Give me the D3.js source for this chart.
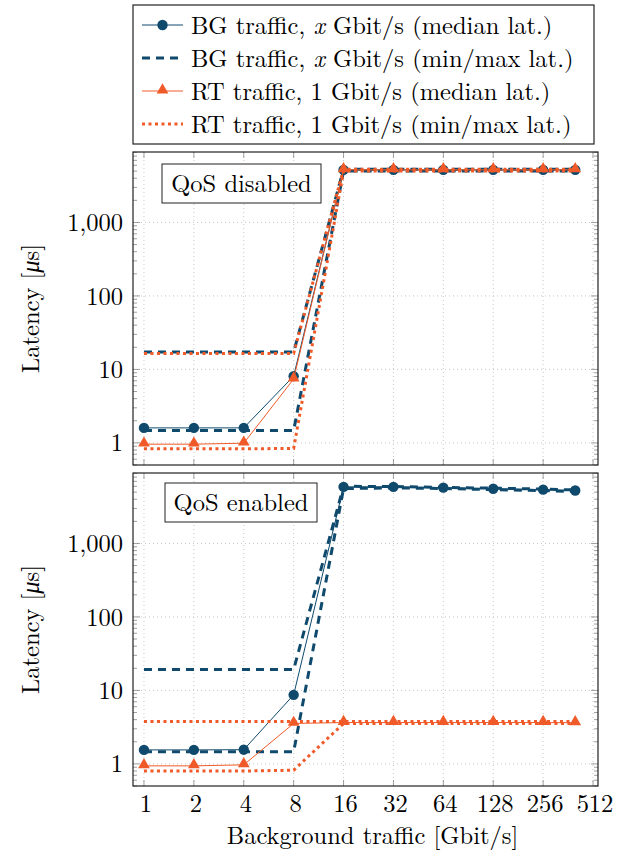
<!DOCTYPE html>
<html>
<head>
<meta charset="utf-8">
<script src="https://cdn.jsdelivr.net/npm/d3@7/dist/d3.min.js"></script>
<style>
  body { margin: 0; background: white; }
</style>
</head>
<body>
<svg id="chart" width="628" height="852" font-family="'Latin Modern Roman', 'Liberation Serif', serif"></svg>
<script>
// 数据
var xVals = [1, 2, 4, 8, 16, 32, 64, 128, 256, 400];
var xTicks = [1, 2, 4, 8, 16, 32, 64, 128, 256, 512];
var yTicks = [1, 10, 100, 1000];

// QoS disabled
var bgMedDis = [1.6, 1.6, 1.6, 8.1, 5200, 5200, 5200, 5200, 5200, 5200];
var bgMinDis = [1.47, 1.47, 1.47, 1.47, 5000, 5000, 5000, 5000, 5000, 5000];
var bgMaxDis = [17.2, 17.2, 17.2, 17.2, 5300, 5300, 5300, 5300, 5300, 5300];
var rtMedDis = [0.96, 0.96, 0.99, 7.4, 5200, 5200, 5200, 5200, 5200, 5200];
var rtMinDis = [0.83, 0.83, 0.83, 0.84, 5000, 5000, 5000, 5000, 5000, 5000];
var rtMaxDis = [16.5, 16.5, 16.5, 16.5, 5300, 5300, 5300, 5300, 5300, 5300];

// QoS enabled
var bgMedEn = [1.55, 1.55, 1.56, 8.7, 5900, 5900, 5750, 5560, 5400, 5250];
var bgMinEn = [1.46, 1.46, 1.46, 1.46, 5600, 5700, 5600, 5400, 5250, 5100];
var bgMaxEn = [19.2, 19.2, 19.2, 19.2, 6000, 5950, 5800, 5650, 5500, 5350];
var rtMedEn = [0.94, 0.94, 0.97, 3.55, 3.65, 3.65, 3.65, 3.65, 3.65, 3.62];
var rtMinEn = [0.80, 0.80, 0.80, 0.82, 3.55, 3.55, 3.55, 3.55, 3.55, 3.55];
var rtMaxEn = [3.78, 3.78, 3.78, 3.78, 3.78, 3.78, 3.78, 3.78, 3.78, 3.78];

var legendLabels = [
  "BG traffic, x Gbit/s (median lat.)",
  "BG traffic, x Gbit/s (min/max lat.)",
  "RT traffic, 1 Gbit/s (median lat.)",
  "RT traffic, 1 Gbit/s (min/max lat.)"
];

// 常量
var BLUE = "#0f4a6d";
var ORANGE = "#f05a28";
var LEFT = 133, RIGHT = 598;
var FONT = 24.5;

var svg = d3.select("#chart");

var x = d3.scaleLog().base(2)
  .domain([Math.pow(2, -0.22), Math.pow(2, 9.1)])
  .range([LEFT, RIGHT]);

var styles = {
  med: { width: 1, dash: null },
  dash: { width: 3, dash: "8,6" },
  dot: { width: 3, dash: "3,3.5" }
};

function drawPanel(top, bottom, series, label, box, showX) {
  var y = d3.scaleLog().domain([0.5, 9100]).range([bottom, top]);
  var g = svg.append("g");

  // 网格
  g.append("g").selectAll("line").data(xTicks).enter().append("line")
    .attr("x1", d => x(d)).attr("x2", d => x(d))
    .attr("y1", top).attr("y2", bottom)
    .attr("stroke", "#c8c8c8").attr("stroke-dasharray", "1,3");
  g.append("g").selectAll("line").data(yTicks).enter().append("line")
    .attr("x1", LEFT).attr("x2", RIGHT)
    .attr("y1", d => y(d)).attr("y2", d => y(d))
    .attr("stroke", "#c8c8c8").attr("stroke-dasharray", "1,3");

  // 刻度
  var minor = [];
  for (var e = -1; e <= 3; e++) {
    for (var m = 1; m <= 9; m++) {
      var v = m * Math.pow(10, e);
      if (v >= 0.5 && v <= 9100 && m != 1) minor.push(v);
    }
  }
  var tg = g.append("g").attr("stroke", "#888").attr("stroke-width", 0.8);
  [LEFT, RIGHT].forEach(function(edge) {
    var dir = edge == LEFT ? 1 : -1;
    tg.selectAll(null).data(minor).enter().append("line")
      .attr("x1", edge).attr("x2", edge + dir * 4)
      .attr("y1", d => y(d)).attr("y2", d => y(d));
    tg.selectAll(null).data(yTicks).enter().append("line")
      .attr("x1", edge).attr("x2", edge + dir * 7)
      .attr("y1", d => y(d)).attr("y2", d => y(d));
  });
  [top, bottom].forEach(function(edge) {
    var dir = edge == bottom ? -1 : 1;
    tg.selectAll(null).data(xTicks).enter().append("line")
      .attr("x1", d => x(d)).attr("x2", d => x(d))
      .attr("y1", edge).attr("y2", edge + dir * 6);
  });

  // 线条
  var line = d3.line().x((d, i) => x(xVals[i])).y(d => y(d));
  series.forEach(function(s) {
    var st = styles[s.style];
    g.append("path").datum(s.values)
      .attr("d", line)
      .attr("fill", "none")
      .attr("stroke", s.color)
      .attr("stroke-width", st.width)
      .attr("stroke-dasharray", st.dash);
    if (s.marker == "circle") {
      g.append("g").selectAll("circle").data(s.values).enter().append("circle")
        .attr("cx", (d, i) => x(xVals[i])).attr("cy", d => y(d))
        .attr("r", 5.2).attr("fill", s.color);
    } else if (s.marker == "triangle") {
      g.append("g").selectAll("path").data(s.values).enter().append("path")
        .attr("d", d3.symbol().type(d3.symbolTriangle).size(60))
        .attr("transform", (d, i) => "translate(" + x(xVals[i]) + "," + (y(d) - 1) + ")")
        .attr("fill", s.color);
    }
  });

  // 边框
  g.append("rect")
    .attr("x", LEFT).attr("y", top)
    .attr("width", RIGHT - LEFT).attr("height", bottom - top)
    .attr("fill", "none").attr("stroke", "#222").attr("stroke-width", 1.2);

  // y 轴标签
  g.append("g").selectAll("text").data(yTicks).enter().append("text")
    .attr("x", 123).attr("y", d => y(d))
    .attr("dy", "0.35em")
    .attr("text-anchor", "end")
    .attr("font-size", FONT)
    .text(d => d3.format(",")(d));

  var yl = g.append("text")
    .attr("transform", "translate(39," + ((top + bottom) / 2) + ") rotate(-90)")
    .attr("text-anchor", "middle")
    .attr("font-size", FONT);
  yl.append("tspan").text("Latency [");
  yl.append("tspan").attr("font-style", "italic").text("μ");
  yl.append("tspan").text("s]");

  // QoS 标注框
  g.append("rect")
    .attr("x", box[0]).attr("y", box[1])
    .attr("width", box[2]).attr("height", box[3])
    .attr("fill", "white").attr("stroke", "#222").attr("stroke-width", 1);
  g.append("text")
    .attr("x", box[0] + box[2] / 2).attr("y", box[1] + box[3] / 2)
    .attr("dy", "0.35em").attr("text-anchor", "middle")
    .attr("font-size", FONT)
    .text(label);

  if (showX) {
    g.append("g").selectAll("text").data(xTicks).enter().append("text")
      .attr("x", d => x(d) + 2).attr("y", bottom + 26)
      .attr("text-anchor", "middle")
      .attr("font-size", FONT)
      .text(d => d);
    g.append("text")
      .attr("x", (LEFT + RIGHT) / 2 + 7).attr("y", bottom + 58)
      .attr("text-anchor", "middle")
      .attr("font-size", FONT)
      .text("Background traffic [Gbit/s]");
  }
}

function seriesOf(bgMed, bgMin, bgMax, rtMed, rtMin, rtMax) {
  return [
    { values: bgMed, color: BLUE, style: "med", marker: "circle" },
    { values: bgMin, color: BLUE, style: "dash" },
    { values: bgMax, color: BLUE, style: "dash" },
    { values: rtMed, color: ORANGE, style: "med", marker: "triangle" },
    { values: rtMin, color: ORANGE, style: "dot" },
    { values: rtMax, color: ORANGE, style: "dot" }
  ];
}

drawPanel(152, 465, seriesOf(bgMedDis, bgMinDis, bgMaxDis, rtMedDis, rtMinDis, rtMaxDis),
  "QoS disabled", [162, 164, 159, 39], false);
drawPanel(473, 786, seriesOf(bgMedEn, bgMinEn, bgMaxEn, rtMedEn, rtMinEn, rtMaxEn),
  "QoS enabled", [165, 483, 152, 39], true);

// 图例
var lg = svg.append("g");
lg.append("rect")
  .attr("x", LEFT).attr("y", 5).attr("width", 461).attr("height", 139)
  .attr("fill", "white").attr("stroke", "#222").attr("stroke-width", 1.2);
var legendStyles = [
  { color: BLUE, style: "med", marker: "circle" },
  { color: BLUE, style: "dash" },
  { color: ORANGE, style: "med", marker: "triangle" },
  { color: ORANGE, style: "dot" }
];
legendLabels.forEach(function(lab, i) {
  var ly = 25 + i * 33;
  var s = legendStyles[i];
  var st = styles[s.style];
  lg.append("line")
    .attr("x1", 142).attr("x2", 183).attr("y1", ly).attr("y2", ly)
    .attr("stroke", s.color).attr("stroke-width", st.width)
    .attr("stroke-dasharray", st.dash);
  if (s.marker == "circle") {
    lg.append("circle").attr("cx", 162.5).attr("cy", ly).attr("r", 5.2).attr("fill", s.color);
  } else if (s.marker == "triangle") {
    lg.append("path").attr("d", d3.symbol().type(d3.symbolTriangle).size(60))
      .attr("transform", "translate(162.5," + (ly - 1) + ")").attr("fill", s.color);
  }
  var t = lg.append("text")
    .attr("x", 191).attr("y", ly).attr("dy", "0.35em")
    .attr("font-size", FONT);
  var parts = lab.split(" x ");
  if (parts.length == 2) {
    t.append("tspan").text(parts[0] + " ");
    t.append("tspan").attr("font-style", "italic").text("x");
    t.append("tspan").text(" " + parts[1]);
  } else {
    t.text(lab);
  }
});
</script>
</body>
</html>
